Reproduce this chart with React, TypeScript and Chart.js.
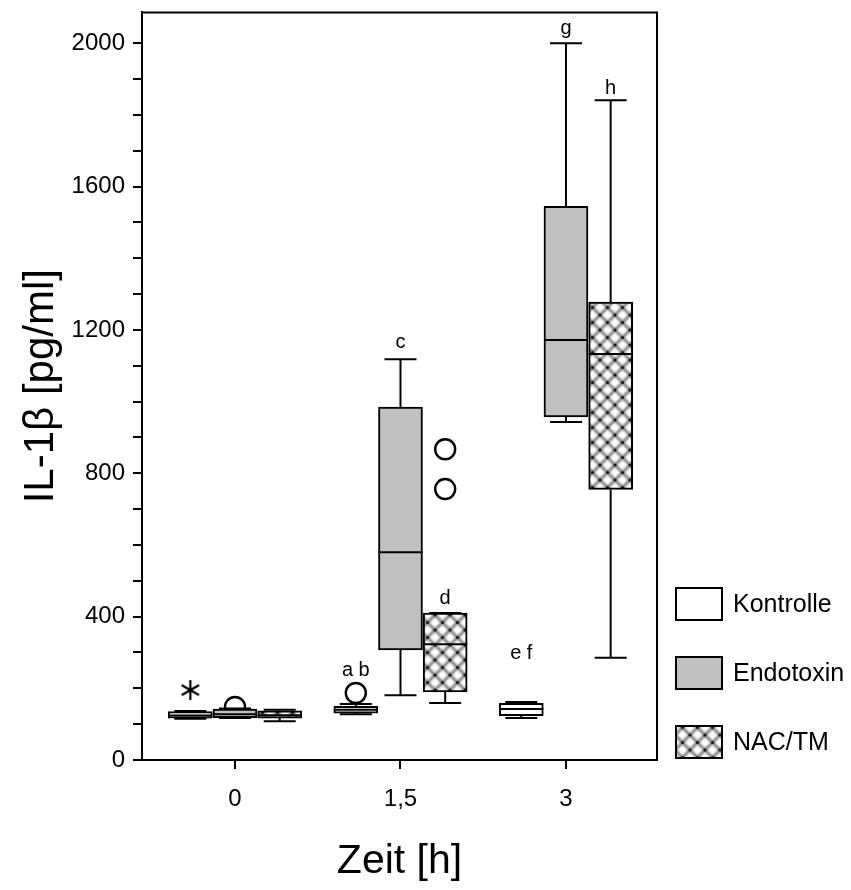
import { useEffect, useRef } from "react";
import { Chart, registerables } from "chart.js";

Chart.register(...registerables);

// Time points (x axis) and groups
const groupLabels = ["0", "1,5", "3"];
const seriesNames = ["Kontrolle", "Endotoxin", "NAC/TM"];

// Box plot statistics per time point (pg/ml)
const kontrolleMin = [115, 128, 117];
const kontrolleQ1 = [117, 131, 124];
const kontrolleMedian = [124, 140, 142];
const kontrolleQ3 = [135, 150, 158];
const kontrolleMax = [137, 156, 162];

const endotoxinMin = [117, 181, 943];
const endotoxinQ1 = [118, 307, 957];
const endotoxinMedian = [128, 580, 1172];
const endotoxinQ3 = [142, 985, 1545];
const endotoxinMax = [144, 1118, 2000];

const nacMin = [108, 159, 285];
const nacQ1 = [117, 190, 755];
const nacMedian = [125, 323, 1133];
const nacQ3 = [137, 410, 1278];
const nacMax = [140, 410, 1841];

// Outliers as [time index, value]
const kontrolleExtremes = [[0, 195]];
const kontrolleOutliers = [[1, 187]];
const endotoxinOutliers = [[0, 148]];
const nacOutliers = [[1, 756], [1, 867]];

// Significance letters: text, time index, group index, value where they sit
const letterTexts = ["a b", "c", "d", "e f", "g", "h"];
const letterTimes = [1, 1, 1, 2, 2, 2];
const letterSeries = [0, 1, 2, 0, 1, 2];
const letterValues = [251, 1166, 452, 298, 2042, 1874];

// Y axis range and ticks
const yMin = 0;
const yMax = 2086;
const yMinorStep = 100;
const yLabelStep = 400;

const FONT = "Arial, 'Liberation Sans', Helvetica, sans-serif";
const seriesOffsets = [-0.27, 0, 0.27];

const stats = [
  { min: kontrolleMin, q1: kontrolleQ1, med: kontrolleMedian, q3: kontrolleQ3, max: kontrolleMax },
  { min: endotoxinMin, q1: endotoxinQ1, med: endotoxinMedian, q3: endotoxinQ3, max: endotoxinMax },
  { min: nacMin, q1: nacQ1, med: nacMedian, q3: nacQ3, max: nacMax },
];

// Soft cross-hatch fill: blurred diagonal grid with dark knots at the crossings
function makeCrossPattern(): CanvasPattern | string {
  const size = 15;
  const big = document.createElement("canvas");
  big.width = size * 3;
  big.height = size * 3;
  const b = big.getContext("2d");
  if (!b) return "#ccc";
  b.fillStyle = "#fff";
  b.fillRect(0, 0, big.width, big.height);
  b.filter = "blur(1.1px)";
  b.strokeStyle = "#6e6e6e";
  b.lineWidth = 2.6;
  for (let k = -4; k <= 4; k++) {
    const o = k * size;
    b.beginPath();
    b.moveTo(o - size, -size);
    b.lineTo(o + size * 4, size * 4);
    b.stroke();
    b.beginPath();
    b.moveTo(o + size * 4, -size);
    b.lineTo(o - size, size * 4);
    b.stroke();
  }
  b.filter = "none";
  b.fillStyle = "#1a1a1a";
  for (let i = 0; i <= 6; i++) {
    for (let j = 0; j <= 6; j++) {
      if ((i + j) % 2 !== 0) continue;
      b.beginPath();
      b.arc((i * size) / 2, (j * size) / 2, 1.6, 0, Math.PI * 2);
      b.fill();
    }
  }
  const c = document.createElement("canvas");
  c.width = size;
  c.height = size;
  const g = c.getContext("2d");
  if (!g) return "#ccc";
  g.drawImage(big, size, size, size, size, 0, 0, size, size);
  return g.createPattern(c, "repeat") || "#ccc";
}

function makeAsterisk(): HTMLCanvasElement {
  const s = 24;
  const c = document.createElement("canvas");
  c.width = s;
  c.height = s;
  const g = c.getContext("2d");
  if (g) {
    g.strokeStyle = "#000";
    g.lineWidth = 2.2;
    const r = 10;
    for (const a of [90, 30, 150]) {
      const rad = (a * Math.PI) / 180;
      g.beginPath();
      g.moveTo(s / 2 - r * Math.cos(rad), s / 2 - r * Math.sin(rad));
      g.lineTo(s / 2 + r * Math.cos(rad), s / 2 + r * Math.sin(rad));
      g.stroke();
    }
  }
  return c;
}

const boxPlotPlugin = {
  id: "boxPlotExtras",
  beforeDraw(chart: any) {
    const ctx = chart.ctx;
    ctx.save();
    ctx.fillStyle = "#fff";
    ctx.fillRect(0, 0, chart.width, chart.height);
    ctx.restore();
  },
  afterDatasetsDraw(chart: any) {
    const ctx = chart.ctx;
    const xs = chart.scales.x;
    const ys = chart.scales.y;
    const barW = 44;
    const capHalf = 16;
    ctx.save();
    ctx.strokeStyle = "#000";
    ctx.lineWidth = 2;
    stats.forEach((st, s) => {
      groupLabels.forEach((_, i) => {
        const cx = xs.getPixelForValue(i + seriesOffsets[s]);
        const yMinP = ys.getPixelForValue(st.min[i]);
        const yQ1 = ys.getPixelForValue(st.q1[i]);
        const yMed = ys.getPixelForValue(st.med[i]);
        const yQ3 = ys.getPixelForValue(st.q3[i]);
        const yMaxP = ys.getPixelForValue(st.max[i]);
        ctx.beginPath();
        ctx.moveTo(cx, yQ3);
        ctx.lineTo(cx, yMaxP);
        ctx.moveTo(cx, yQ1);
        ctx.lineTo(cx, yMinP);
        ctx.moveTo(cx - capHalf, yMaxP);
        ctx.lineTo(cx + capHalf, yMaxP);
        ctx.moveTo(cx - capHalf, yMinP);
        ctx.lineTo(cx + capHalf, yMinP);
        ctx.moveTo(cx - barW / 2, yMed);
        ctx.lineTo(cx + barW / 2, yMed);
        ctx.stroke();
      });
    });
    ctx.fillStyle = "#000";
    ctx.font = `20px ${FONT}`;
    ctx.textAlign = "center";
    ctx.textBaseline = "middle";
    letterTexts.forEach((t, k) => {
      const x = xs.getPixelForValue(letterTimes[k] + seriesOffsets[letterSeries[k]]);
      const y = ys.getPixelForValue(letterValues[k]);
      ctx.fillText(t, x, y);
    });
    ctx.restore();
  },
  afterDraw(chart: any) {
    const ctx = chart.ctx;
    const a = chart.chartArea;
    ctx.save();
    ctx.strokeStyle = "#000";
    ctx.lineWidth = 2;
    ctx.beginPath();
    ctx.moveTo(a.left, a.top);
    ctx.lineTo(a.right, a.top);
    ctx.lineTo(a.right, a.bottom);
    ctx.stroke();

    // legend
    const boxW = 46;
    const boxH = 32;
    const pitch = 69;
    const left = a.right + 19;
    const bars = chart.data.datasets.filter((d: any) => d.type === "bar");
    bars.forEach((d: any, k: number) => {
      const top = a.bottom - 34 - (bars.length - 1 - k) * pitch;
      ctx.fillStyle = d.backgroundColor;
      ctx.fillRect(left, top, boxW, boxH);
      ctx.lineWidth = 2;
      ctx.strokeStyle = "#000";
      ctx.strokeRect(left, top, boxW, boxH);
      ctx.fillStyle = "#000";
      ctx.font = `25px ${FONT}`;
      ctx.textAlign = "left";
      ctx.textBaseline = "middle";
      ctx.fillText(d.label, left + boxW + 11, top + boxH / 2 + 1);
    });
    ctx.restore();
  },
};

export default function App() {
  const canvasRef = useRef<HTMLCanvasElement | null>(null);

  useEffect(() => {
    const canvas = canvasRef.current;
    if (!canvas) return;
    const hatch = makeCrossPattern();
    const fills = ["#ffffff", "#c0c0c0", hatch];

    const barSets = stats.map((st, s) => ({
      type: "bar" as const,
      label: seriesNames[s],
      data: groupLabels.map((_, i) => ({ x: i + seriesOffsets[s], y: [st.q1[i], st.q3[i]] })),
      backgroundColor: fills[s],
      borderColor: "#000",
      borderWidth: 2,
      borderSkipped: false,
      barThickness: 44,
      grouped: false,
      order: 1,
    }));

    const toPoints = (list: number[][], s: number) =>
      list.map(([i, v]) => ({ x: i + seriesOffsets[s], y: v }));

    const outlierBase = {
      type: "scatter" as const,
      pointRadius: 10,
      borderColor: "#000",
      backgroundColor: "#fff",
      borderWidth: 2.4,
      order: 2,
    };

    const outlierSets = [
      { ...outlierBase, label: "Kontrolle Ausreißer", data: toPoints(kontrolleOutliers, 0), pointStyle: "circle" },
      { ...outlierBase, label: "Endotoxin Ausreißer", data: toPoints(endotoxinOutliers, 1), pointStyle: "circle" },
      { ...outlierBase, label: "NAC/TM Ausreißer", data: toPoints(nacOutliers, 2), pointStyle: "circle" },
      {
        ...outlierBase,
        label: "Kontrolle Extremwert",
        data: toPoints(kontrolleExtremes, 0),
        pointStyle: makeAsterisk(),
        backgroundColor: "transparent",
        borderWidth: 0,
      },
    ];

    const chart = new Chart(canvas, {
      type: "bar",
      data: { datasets: [...barSets, ...outlierSets] as any },
      plugins: [boxPlotPlugin],
      options: {
        responsive: false,
        animation: false,
        events: [],
        layout: { padding: { top: 12, right: 194, left: 0, bottom: 0 } },
        plugins: { legend: { display: false }, tooltip: { enabled: false } },
        scales: {
          x: {
            type: "linear",
            min: -0.562,
            max: 2.55,
            offset: false,
            afterBuildTicks: (scale: any) => {
              scale.ticks = groupLabels.map((_, i) => ({ value: i }));
            },
            afterFit: (scale: any) => {
              scale.height = 130;
              scale.paddingLeft = 0;
              scale.paddingRight = 0;
            },
            ticks: {
              callback: (v: any) => groupLabels[v] ?? "",
              color: "#000",
              font: { size: 24, family: FONT },
              padding: 16,
              maxRotation: 0,
              autoSkip: false,
            },
            grid: {
              display: true,
              drawOnChartArea: false,
              drawTicks: true,
              tickLength: 9,
              color: "#000",
              lineWidth: 2,
              offset: false,
            },
            border: { display: true, color: "#000", width: 2 },
            title: {
              display: true,
              text: "Zeit [h]",
              color: "#000",
              font: { size: 41, family: FONT },
              padding: { top: 0, bottom: 4 },
            },
          },
          y: {
            type: "linear",
            min: yMin,
            max: yMax,
            afterFit: (scale: any) => {
              scale.width = 142;
              scale.paddingTop = 0;
              scale.paddingBottom = 0;
            },
            ticks: {
              stepSize: yMinorStep,
              includeBounds: false,
              autoSkip: false,
              callback: (v: any) => (Number(v) % yLabelStep === 0 ? String(v) : ""),
              color: "#000",
              font: { size: 24, family: FONT },
              padding: 8,
            },
            grid: {
              display: true,
              drawOnChartArea: false,
              drawTicks: true,
              tickLength: 9,
              color: "#000",
              lineWidth: 2,
            },
            border: { display: true, color: "#000", width: 2 },
            title: {
              display: true,
              text: "IL-1β [pg/ml]",
              color: "#000",
              font: { size: 42, family: FONT },
              padding: { top: 16, bottom: 0 },
            },
          },
        },
      } as any,
    });

    return () => chart.destroy();
  }, []);

  return (
    <div style={{ position: "absolute", left: 0, top: 0, width: 851, height: 890, background: "#fff" }}>
      <canvas ref={canvasRef} width={851} height={890} style={{ display: "block" }} />
    </div>
  );
}
